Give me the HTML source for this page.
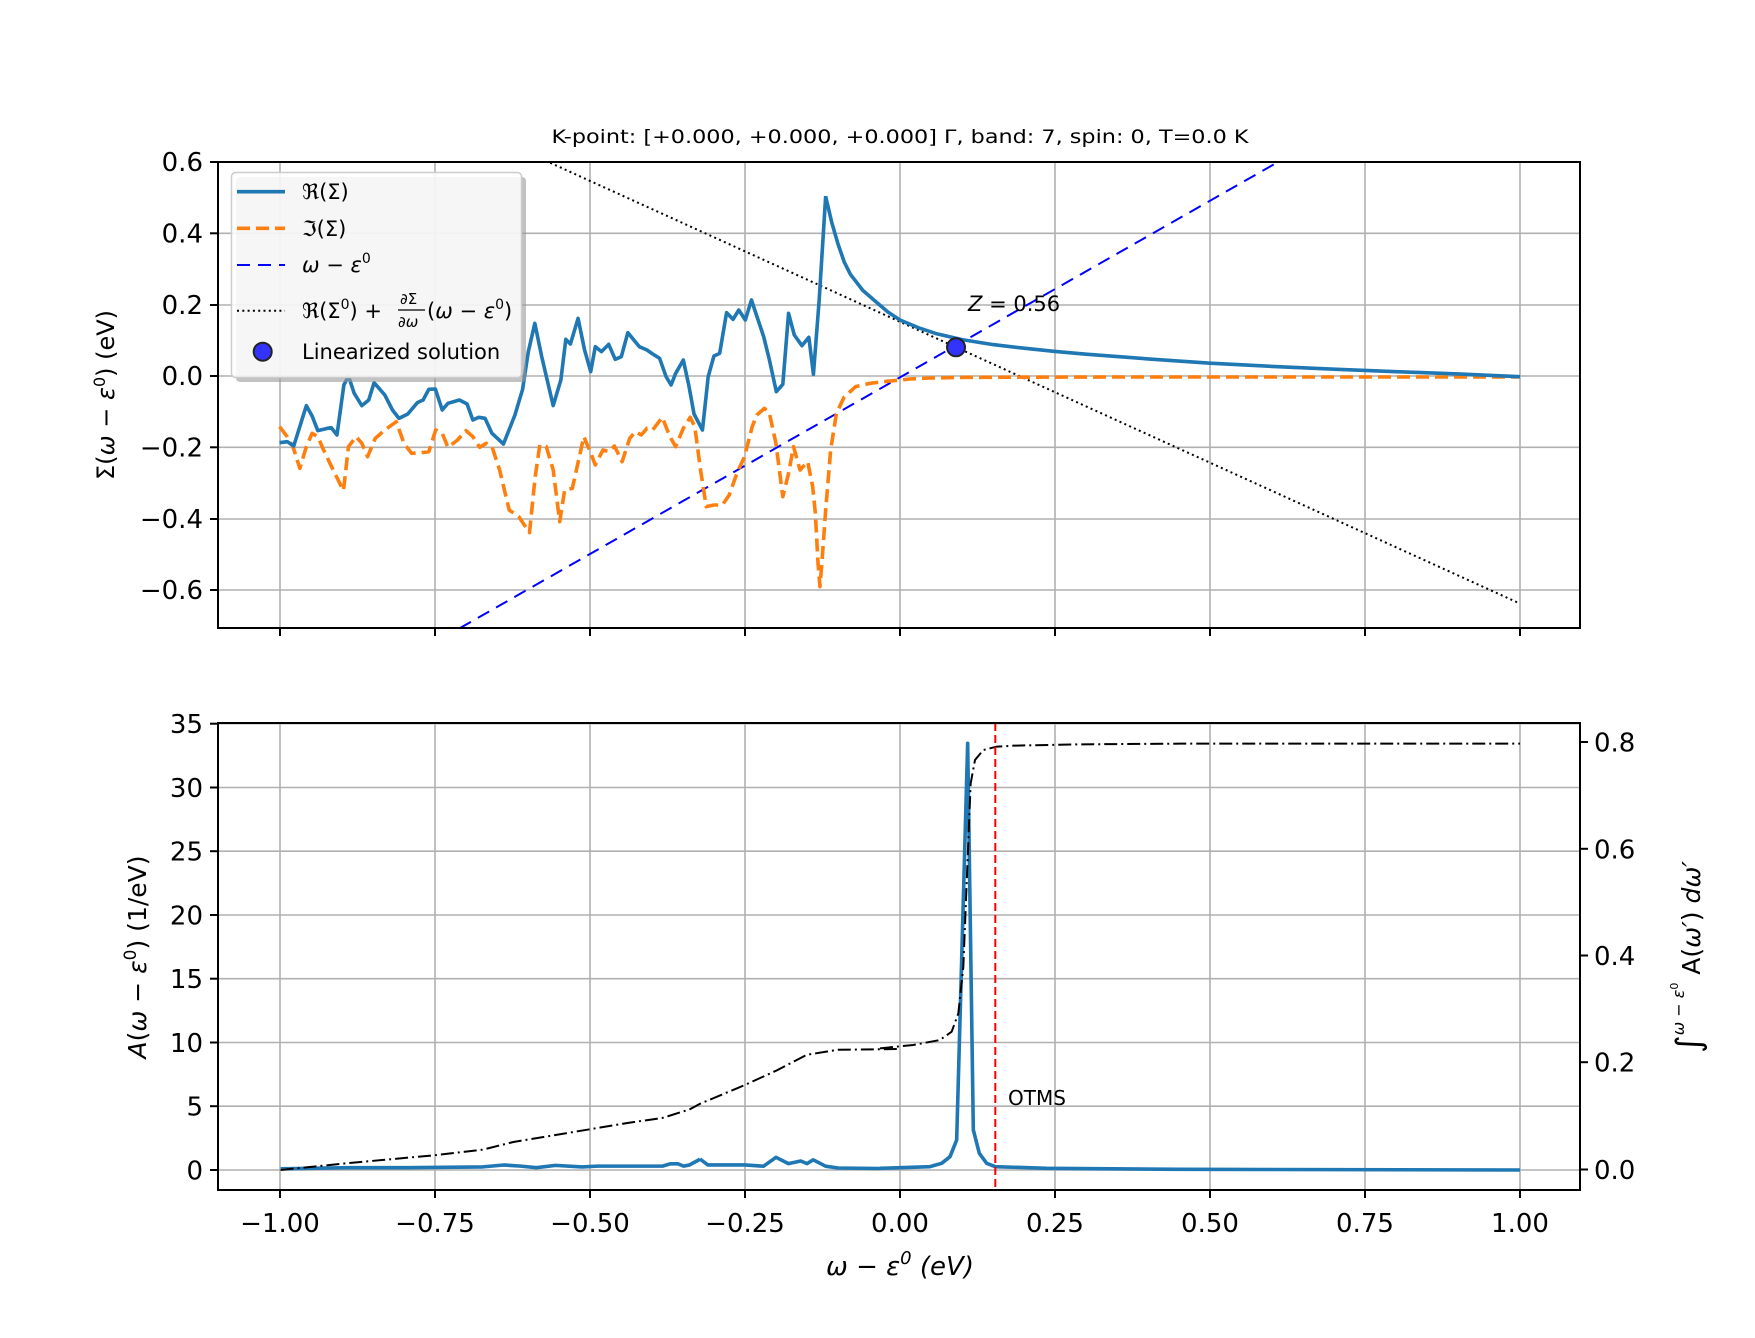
<!DOCTYPE html>
<html><head><meta charset="utf-8"><style>
html,body{margin:0;padding:0;background:#fff}
svg{display:block;font-family:"DejaVu Sans","Liberation Sans",sans-serif}
</style></head><body>
<svg width="1755" height="1338" viewBox="0 0 1755 1338" xmlns="http://www.w3.org/2000/svg">
<rect width="1755" height="1338" fill="#fff"/>
<defs>
<clipPath id="c1"><rect x="218" y="162" width="1362" height="466"/></clipPath>
<clipPath id="c2"><rect x="218" y="723" width="1362" height="467"/></clipPath>
</defs>
<text x="900" y="143" font-size="19" text-anchor="middle" textLength="697" lengthAdjust="spacingAndGlyphs">K-point: [+0.000, +0.000, +0.000] Γ, band: 7, spin: 0, T=0.0 K</text>

<g stroke="#b0b0b0" stroke-width="1.6">
<line x1="280" y1="162" x2="280" y2="628"/><line x1="435" y1="162" x2="435" y2="628"/><line x1="590" y1="162" x2="590" y2="628"/><line x1="745" y1="162" x2="745" y2="628"/><line x1="900" y1="162" x2="900" y2="628"/><line x1="1055" y1="162" x2="1055" y2="628"/><line x1="1210" y1="162" x2="1210" y2="628"/><line x1="1365" y1="162" x2="1365" y2="628"/><line x1="1520" y1="162" x2="1520" y2="628"/>
<line x1="218" y1="162" x2="1580" y2="162"/><line x1="218" y1="233.3" x2="1580" y2="233.3"/><line x1="218" y1="305" x2="1580" y2="305"/><line x1="218" y1="376" x2="1580" y2="376"/><line x1="218" y1="447.3" x2="1580" y2="447.3"/><line x1="218" y1="519" x2="1580" y2="519"/><line x1="218" y1="590" x2="1580" y2="590"/>
</g>
<g clip-path="url(#c1)" fill="none" stroke-linejoin="round">
<line x1="459.6" y1="628.3" x2="1278" y2="162" stroke="#0000ff" stroke-width="2" stroke-dasharray="13,8"/>
<line x1="280" y1="40" x2="1520" y2="603.6" stroke="#000" stroke-width="2" stroke-dasharray="2,3.3"/>
<g transform="translate(270,160) scale(0.3827,0.33333)">
<polyline vector-effect="non-scaling-stroke" stroke="#ff7f0e" stroke-width="3.6" stroke-dasharray="13,6" points="25,800 45,830 60,860 78,925 95,860 110,820 125,830 140,870 165,930 192,992 205,860 225,830 240,850 255,890 275,835 300,810 330,785 350,850 370,880 395,878 415,875 433,810 450,820 465,862 490,840 512,812 530,830 548,862 565,850 580,860 600,930 625,1050 650,1070 678,1118 693,950 705,855 722,860 740,930 757,1085 770,990 790,985 820,830 835,870 850,915 870,870 885,875 900,858 920,905 940,835 955,815 970,825 985,805 1000,810 1025,772 1045,830 1060,860 1080,805 1098,772 1110,800 1125,930 1140,1040 1160,1035 1182,1035 1200,1005 1220,940 1240,890 1260,800 1272,765 1292,745 1305,760 1322,850 1340,1010 1355,940 1368,860 1385,930 1405,905 1418,980 1425,1060 1432,1210 1437,1280 1442,1210 1452,1050 1465,870 1480,760 1500,712 1530,680 1568,670 1620,663 1672,657 1724,654 1828,652 2183,651 3264,651"/>
</g>
<g transform="translate(270,160) scale(0.3827,0.33333)">
<polyline vector-effect="non-scaling-stroke" stroke="#1f77b4" stroke-width="3.6" stroke-linejoin="round" points="25,848 45,845 62,858 95,737 110,768 125,812 150,805 160,803 175,825 193,675 205,648 220,700 240,737 258,720 272,668 300,705 320,750 337,775 360,762 385,728 400,720 415,688 432,687 450,750 465,730 495,720 515,732 530,780 545,772 562,775 580,820 610,852 640,765 660,688 675,575 692,490 710,590 740,737 760,660 773,538 785,552 805,475 822,570 838,635 850,560 866,575 885,553 902,598 918,590 935,518 965,560 985,570 1000,582 1018,595 1035,650 1048,675 1060,640 1080,600 1095,680 1108,762 1130,810 1145,650 1160,588 1175,580 1193,458 1210,478 1225,450 1242,480 1258,420 1290,530 1305,600 1323,695 1340,673 1355,460 1370,525 1390,557 1408,532 1420,643 1435,420 1452,108"/>
</g>
<polyline stroke="#1f77b4" stroke-width="3.6" stroke-linejoin="round" points="825.6,196.2 831.8,222.6 838,244 844.2,261.9 850.4,274.3 862.8,290.4 875.2,301.1 887.6,311.8 900,320 918.6,327.8 937.2,333.9 962,339.6 993,344.6 1024,348.2 1055,351.4 1086,354.2 1148,358.9 1210,363.2 1272,366.4 1334,369.2 1396,371.7 1458,373.9 1520,376.7"/>
<circle cx="956" cy="347.3" r="9" fill="#3333ff" stroke="#222" stroke-width="2"/>
</g>
<text x="968" y="311" font-size="21" font-style="italic">Z<tspan font-style="normal"> = 0.56</tspan></text>
<rect x="218" y="162" width="1362" height="466" fill="none" stroke="#000" stroke-width="2"/>
<g stroke="#000" stroke-width="2">
<line x1="210" y1="162" x2="218" y2="162"/><line x1="210" y1="233.3" x2="218" y2="233.3"/><line x1="210" y1="305" x2="218" y2="305"/><line x1="210" y1="376" x2="218" y2="376"/><line x1="210" y1="447.3" x2="218" y2="447.3"/><line x1="210" y1="519" x2="218" y2="519"/><line x1="210" y1="590" x2="218" y2="590"/>
<line x1="280" y1="628" x2="280" y2="636"/><line x1="435" y1="628" x2="435" y2="636"/><line x1="590" y1="628" x2="590" y2="636"/><line x1="745" y1="628" x2="745" y2="636"/><line x1="900" y1="628" x2="900" y2="636"/><line x1="1055" y1="628" x2="1055" y2="636"/><line x1="1210" y1="628" x2="1210" y2="636"/><line x1="1365" y1="628" x2="1365" y2="636"/><line x1="1520" y1="628" x2="1520" y2="636"/>
</g>
<g font-size="26" text-anchor="end">
<text x="203" y="171">0.6</text><text x="203" y="242.5">0.4</text><text x="203" y="314">0.2</text><text x="203" y="385">0.0</text><text x="203" y="456.5">−0.2</text><text x="203" y="528">−0.4</text><text x="203" y="599">−0.6</text>
</g>
<text transform="translate(114,395) rotate(-90)" font-size="24" text-anchor="middle">Σ(<tspan font-style="italic">ω</tspan> − <tspan font-style="italic">ε</tspan><tspan font-size="16" dy="-9">0</tspan><tspan dy="9">) (eV)</tspan></text>

<rect x="236" y="177" width="290" height="205" rx="4" fill="#999" opacity="0.6"/>
<rect x="231.5" y="172.5" width="290" height="205" rx="4" fill="#fff" fill-opacity="0.85" stroke="#ccc" stroke-width="1.5"/>
<line x1="237" y1="191.7" x2="285" y2="191.7" stroke="#1f77b4" stroke-width="3.6"/>
<line x1="237" y1="228.3" x2="285" y2="228.3" stroke="#ff7f0e" stroke-width="3.6" stroke-dasharray="13,6"/>
<line x1="237" y1="265" x2="285" y2="265" stroke="#0000ff" stroke-width="2" stroke-dasharray="13,8"/>
<line x1="237" y1="310.7" x2="285" y2="310.7" stroke="#000" stroke-width="2" stroke-dasharray="2,3.3"/>
<circle cx="262.7" cy="351.7" r="9" fill="#3333ff" stroke="#222" stroke-width="2"/>
<g font-size="21">
<text x="302" y="199">ℜ(Σ)</text>
<text x="302" y="236">ℑ(Σ)</text>
<text x="302" y="272"><tspan font-style="italic">ω</tspan> − <tspan font-style="italic">ε</tspan><tspan font-size="14" dy="-9">0</tspan></text>
<text x="302" y="318">ℜ(Σ<tspan font-size="14" dy="-9">0</tspan><tspan dy="9">) + </tspan></text>
<text x="400" y="304" font-size="15">∂Σ</text>
<line x1="398" y1="310" x2="425" y2="310" stroke="#000" stroke-width="1.2"/>
<text x="398" y="327" font-size="15" font-style="italic">∂ω</text>
<text x="427" y="318">(<tspan font-style="italic">ω</tspan> − <tspan font-style="italic">ε</tspan><tspan font-size="14" dy="-9">0</tspan><tspan dy="9">)</tspan></text>
<text x="302" y="359">Linearized solution</text>
</g>

<g stroke="#b0b0b0" stroke-width="1.6">
<line x1="280" y1="723" x2="280" y2="1190"/><line x1="435" y1="723" x2="435" y2="1190"/><line x1="590" y1="723" x2="590" y2="1190"/><line x1="745" y1="723" x2="745" y2="1190"/><line x1="900" y1="723" x2="900" y2="1190"/><line x1="1055" y1="723" x2="1055" y2="1190"/><line x1="1210" y1="723" x2="1210" y2="1190"/><line x1="1365" y1="723" x2="1365" y2="1190"/><line x1="1520" y1="723" x2="1520" y2="1190"/>
<line x1="218" y1="723.7" x2="1580" y2="723.7"/><line x1="218" y1="787.5" x2="1580" y2="787.5"/><line x1="218" y1="851.2" x2="1580" y2="851.2"/><line x1="218" y1="915" x2="1580" y2="915"/><line x1="218" y1="978.7" x2="1580" y2="978.7"/><line x1="218" y1="1042.5" x2="1580" y2="1042.5"/><line x1="218" y1="1106.2" x2="1580" y2="1106.2"/><line x1="218" y1="1170" x2="1580" y2="1170"/>
</g>
<g clip-path="url(#c2)" fill="none" stroke-linejoin="round">
<g transform="translate(100,700) scale(0.3827)">
<polyline vector-effect="non-scaling-stroke" stroke="#1f77b4" stroke-width="3.6" points="472,1225 650,1222 800,1222 1000,1220 1055,1215 1100,1218 1140,1222 1190,1216 1260,1220 1300,1218 1470,1218 1490,1212 1510,1212 1525,1218 1540,1215 1568,1200"/>
</g>
<polyline stroke="#1f77b4" stroke-width="3.6" points="700,1159 707.8,1164.9 745,1164.9 763.6,1166.2 776,1157.3 788.4,1163.6 800.8,1161 807,1163.6 813.2,1159.8 825.6,1166.2 838,1168 880,1168.5"/>
<g transform="translate(880,700) scale(0.33333)">
<polyline vector-effect="non-scaling-stroke" stroke="#1f77b4" stroke-width="3.6" points="0,1405 150,1400 185,1390 210,1370 230,1320 263,130 280,1290 298,1360 320,1390 346,1400 500,1405 900,1408 1920,1410"/>
</g>
<g transform="translate(100,700) scale(0.3827)">
<polyline vector-effect="non-scaling-stroke" stroke="#000" stroke-width="2" stroke-dasharray="13,4,2,4" points="472,1228 650,1210 870,1190 1000,1175 1080,1155 1200,1135 1290,1120 1380,1105 1470,1092 1540,1070 1568,1055 1604,1040 1685,1006 1766,969 1847,927 1928,914 2083,912"/>
</g>
<g transform="translate(880,700) scale(0.33333)">
<polyline vector-effect="non-scaling-stroke" stroke="#000" stroke-width="2" stroke-dasharray="13,4,2,4" points="0,1045 100,1035 180,1020 215,995 235,940 250,800 262,500 272,250 285,180 310,150 350,140 400,137 600,133 900,131 1920,131"/>
</g>
<line x1="995.3" y1="723" x2="995.3" y2="1190" stroke="#ff0000" stroke-width="2" stroke-dasharray="8,4"/>
</g>
<text x="1008" y="1105" font-size="20">OTMS</text>
<rect x="218" y="723" width="1362" height="467" fill="none" stroke="#000" stroke-width="2"/>
<g stroke="#000" stroke-width="2">
<line x1="210" y1="723.7" x2="218" y2="723.7"/><line x1="210" y1="787.5" x2="218" y2="787.5"/><line x1="210" y1="851.2" x2="218" y2="851.2"/><line x1="210" y1="915" x2="218" y2="915"/><line x1="210" y1="978.7" x2="218" y2="978.7"/><line x1="210" y1="1042.5" x2="218" y2="1042.5"/><line x1="210" y1="1106.2" x2="218" y2="1106.2"/><line x1="210" y1="1170" x2="218" y2="1170"/>
<line x1="1580" y1="742" x2="1588" y2="742"/><line x1="1580" y1="848.8" x2="1588" y2="848.8"/><line x1="1580" y1="955.5" x2="1588" y2="955.5"/><line x1="1580" y1="1062.2" x2="1588" y2="1062.2"/><line x1="1580" y1="1169.5" x2="1588" y2="1169.5"/>
<line x1="280" y1="1190" x2="280" y2="1198"/><line x1="435" y1="1190" x2="435" y2="1198"/><line x1="590" y1="1190" x2="590" y2="1198"/><line x1="745" y1="1190" x2="745" y2="1198"/><line x1="900" y1="1190" x2="900" y2="1198"/><line x1="1055" y1="1190" x2="1055" y2="1198"/><line x1="1210" y1="1190" x2="1210" y2="1198"/><line x1="1365" y1="1190" x2="1365" y2="1198"/><line x1="1520" y1="1190" x2="1520" y2="1198"/>
</g>
<g font-size="26" text-anchor="end">
<text x="203" y="733">35</text><text x="203" y="796.8">30</text><text x="203" y="860.5">25</text><text x="203" y="924.3">20</text><text x="203" y="988">15</text><text x="203" y="1051.8">10</text><text x="203" y="1115.5">5</text><text x="203" y="1179.3">0</text>
</g>
<g font-size="26">
<text x="1594" y="751.5">0.8</text><text x="1594" y="858.3">0.6</text><text x="1594" y="965">0.4</text><text x="1594" y="1071.7">0.2</text><text x="1594" y="1179">0.0</text>
</g>
<g font-size="26" text-anchor="middle">
<text x="280" y="1232">−1.00</text><text x="435" y="1232">−0.75</text><text x="590" y="1232">−0.50</text><text x="745" y="1232">−0.25</text><text x="900" y="1232">0.00</text><text x="1055" y="1232">0.25</text><text x="1210" y="1232">0.50</text><text x="1365" y="1232">0.75</text><text x="1520" y="1232">1.00</text>
</g>
<text x="900" y="1275" font-size="26" text-anchor="middle" font-style="italic">ω − ε<tspan font-size="18" dy="-11">0</tspan><tspan dy="11"> (eV)</tspan></text>
<text transform="translate(146,957) rotate(-90)" font-size="25" text-anchor="middle"><tspan font-style="italic">A</tspan>(<tspan font-style="italic">ω</tspan> − <tspan font-style="italic">ε</tspan><tspan font-size="17" dy="-10">0</tspan><tspan dy="10">) (1/eV)</tspan></text>
<text transform="translate(1700,957) rotate(-90)" font-size="25" text-anchor="middle"><tspan font-size="34">∫</tspan><tspan font-size="16" dy="-16" font-style="italic">ω − ε</tspan><tspan font-size="11" dy="-6">0</tspan><tspan dy="22"> A(</tspan><tspan font-style="italic">ω′</tspan>) <tspan font-style="italic">dω′</tspan></text>
</svg>
</body></html>
